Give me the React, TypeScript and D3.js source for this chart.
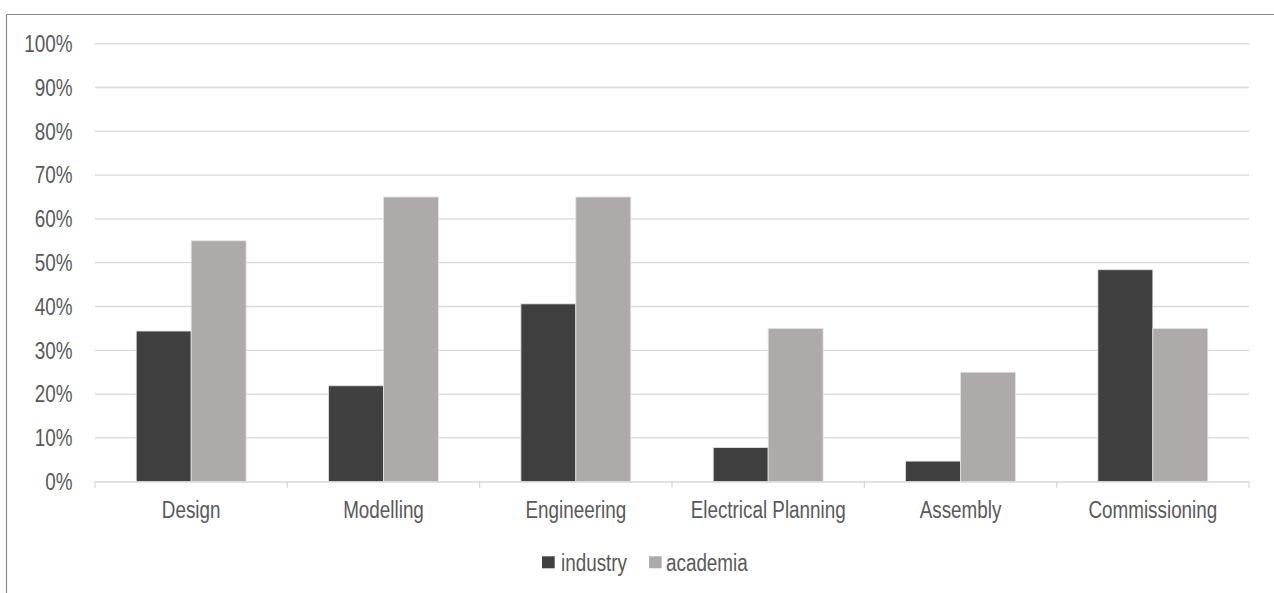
import React from "react";
import * as d3 from "d3";

const categories = ["Design", "Modelling", "Engineering", "Electrical Planning", "Assembly", "Commissioning"];
const seriesNames = ["industry", "academia"];
const industry = [0.344, 0.219, 0.406, 0.078, 0.047, 0.484];
const academia = [0.55, 0.65, 0.65, 0.35, 0.25, 0.35];
const yTicks = [0, 0.1, 0.2, 0.3, 0.4, 0.5, 0.6, 0.7, 0.8, 0.9, 1.0];

const W = 1274;
const H = 593;
const colors: Record<string, string> = { industry: "#404040", academia: "#aeaaaa" };
const FONT = "'Liberation Sans', Arial, sans-serif";
const TEXT = "#595959";
const FS = 23;
// condensed face: regular sans squeezed horizontally
const NARROW = 0.82;

type LabelProps = {
  x: number;
  y: number;
  anchor?: "start" | "middle" | "end";
  children: React.ReactNode;
};

function Label({ x, y, anchor = "start", children }: LabelProps) {
  return (
    <g transform={`translate(${x},${y}) scale(${NARROW},1)`}>
      <text x={0} y={0} textAnchor={anchor} fontSize={FS} fill={TEXT}>
        {children}
      </text>
    </g>
  );
}

export default function App() {
  const x0 = d3.scaleBand<string>().domain(categories).range([95, 1249]).padding(0);
  const x1 = d3
    .scaleBand<string>()
    .domain(seriesNames)
    .range([0, x0.bandwidth()])
    .paddingInner(0)
    .paddingOuter(0.75);
  const y = d3.scaleLinear().domain([0, 1]).range([481.7, 43.7]);
  const fmt = d3.format(".0%");

  const values: Record<string, number[]> = { industry, academia };
  const boundaries = [...categories.map((c) => x0(c)!), x0.range()[1]];

  const legendItems = [
    { name: "industry", x: 542, tx: 561 },
    { name: "academia", x: 649, tx: 666 },
  ];

  return (
    <svg
      width={W}
      height={H}
      style={{ position: "absolute", left: 0, top: 0, background: "#fff" }}
      fontFamily={FONT}
    >
      <rect x={0} y={0} width={W} height={H} fill="#fff" />
      {/* outer frame */}
      <line x1={6.5} y1={14.5} x2={W} y2={14.5} stroke="#8a8a8a" strokeWidth={1.2} />
      <line x1={6.5} y1={14.5} x2={6.5} y2={H} stroke="#8a8a8a" strokeWidth={1.2} />

      {/* gridlines */}
      {yTicks.slice(1).map((t) => (
        <line
          key={t}
          x1={95}
          x2={1249}
          y1={y(t)}
          y2={y(t)}
          stroke="#d9d9d9"
          strokeWidth={1.3}
        />
      ))}

      {/* y tick labels */}
      {yTicks.map((t) => (
        <Label key={t} x={72.5} y={y(t) + 8.3} anchor="end">
          {fmt(t)}
        </Label>
      ))}

      {/* bars */}
      {categories.map((c, i) => (
        <g key={c} transform={`translate(${x0(c)},0)`}>
          {seriesNames.map((s) => (
            <rect
              key={s}
              x={x1(s)}
              y={y(values[s][i])}
              width={x1.bandwidth()}
              height={y(0) - y(values[s][i])}
              fill={colors[s]}
              stroke="#e4e4e4"
              strokeWidth={0.8}
            />
          ))}
        </g>
      ))}

      {/* category axis */}
      <line x1={95} x2={1249} y1={y(0) + 0.3} y2={y(0) + 0.3} stroke="#d9d9d9" strokeWidth={1.3} />
      {boundaries.map((b, i) => (
        <line key={i} x1={b} x2={b} y1={y(0)} y2={y(0) + 6} stroke="#d9d9d9" strokeWidth={1.3} />
      ))}
      {categories.map((c) => (
        <Label key={c} x={x0(c)! + x0.bandwidth() / 2} y={518.3} anchor="middle">
          {c}
        </Label>
      ))}

      {/* legend */}
      {legendItems.map((it) => (
        <g key={it.name}>
          <rect x={it.x} y={556.3} width={12.7} height={12} fill={colors[it.name]} />
          <Label x={it.tx} y={571}>
            {it.name}
          </Label>
        </g>
      ))}
    </svg>
  );
}
